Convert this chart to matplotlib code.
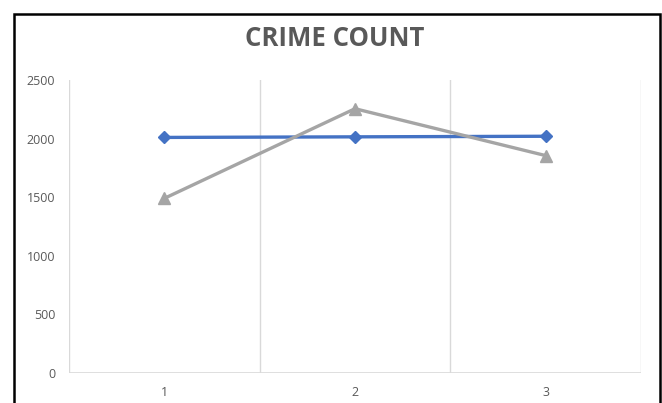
import matplotlib.pyplot as plt
from matplotlib.patches import Rectangle

plt.rcParams["font.family"] = ["Open Sans", "DejaVu Sans"]

categories = [1, 2, 3]
series_a = [2010, 2015, 2020]
series_b = [1490, 2255, 1855]
y_ticks = [0, 500, 1000, 1500, 2000, 2500]

fig = plt.figure(figsize=(6.62, 4.03), dpi=100)
ax = fig.add_axes([69 / 662, 1 - 373 / 403, 572 / 662, 293 / 403])

ax.plot(categories, series_a, color="#4472C4", lw=2.4, marker="D", ms=6.5,
        zorder=3)
ax.plot(categories, series_b, color="#A5A5A5", lw=2.4, marker="^", ms=8,
        zorder=3)

ax.set_xlim(0.5, 3.5)
ax.set_ylim(0, 2500)
ax.set_yticks(y_ticks)
ax.set_xticks(categories)

# vertical separators between categories
for xb in [0.5, 1.5, 2.5, 3.5]:
    ax.axvline(xb, color="#D9D9D9", lw=1, zorder=1)
ax.axhline(0, color="#D9D9D9", lw=1.2, zorder=1)

for s in ax.spines.values():
    s.set_visible(False)
ax.tick_params(length=0, labelsize=9, colors="#595959")
ax.tick_params(axis="y", pad=10)
ax.tick_params(axis="x", pad=9)

fig.text(0.505, 1 - 39 / 403, "CRIME COUNT", ha="center", va="center",
         fontsize=18.5, fontweight="bold", color="#595959")

# chart frame
fig.patches.append(Rectangle((13.5 / 662, -0.05), 646.5 / 662, 1.05 - 14 / 403,
                             transform=fig.transFigure, fill=False,
                             edgecolor="black", lw=1.8))

fig.savefig("out.png", dpi=100)
